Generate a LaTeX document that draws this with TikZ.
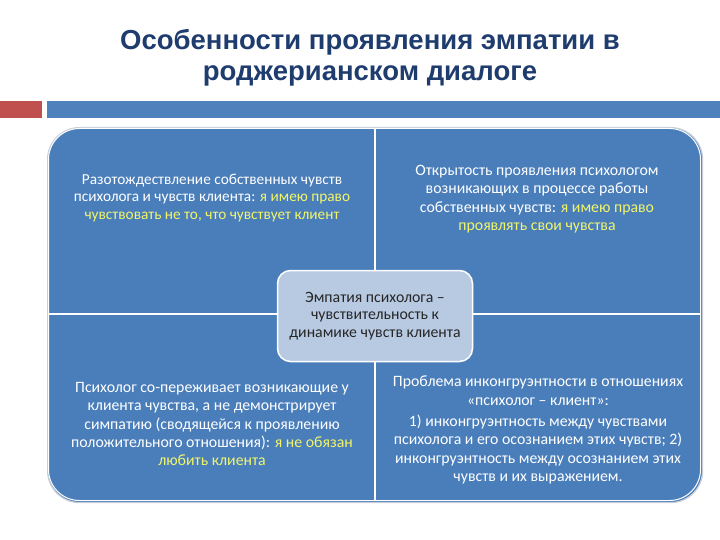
\documentclass[tikz,border=0pt]{standalone}
\usepackage{fontspec}
\setmainfont{Carlito}
\newfontfamily\titlefont{Liberation Sans}
\definecolor{titleblue}{HTML}{1F3C6E}
\definecolor{barred}{HTML}{C0504D}
\definecolor{barblue}{HTML}{4F81BD}
\definecolor{quadblue}{HTML}{4A7EBB}
\definecolor{centerfill}{HTML}{B8CAE2}
\definecolor{hl}{HTML}{F2F56A}
\definecolor{rimgray}{HTML}{C8CED8}
\newcommand{\hlt}[1]{{\color{hl}#1}}
\begin{document}
\begin{tikzpicture}[x=1pt,y=-1pt,
  quadtext/.style={text=white,align=center,font=\fontsize{15.8}{18.3}\selectfont,inner sep=0pt},
  titletext/.style={text=titleblue,align=center,font=\titlefont\bfseries\fontsize{27.5}{31}\selectfont,inner sep=0pt},
  bar/.style={inner sep=0pt,outer sep=0pt},
  divider/.style={draw=white,line width=1.6pt}]
\useasboundingbox (0,0) rectangle (720,540);
\fill[white] (0,0) rectangle (720,540);
% title
\node[titletext,anchor=center] (title) at (370,58) {Особенности проявления эмпатии в\\роджерианском диалоге};
% bars
\node[bar,fill=barred,minimum width=42pt,minimum height=17pt,anchor=north west] (redbar) at (0,101) {};
\node[bar,fill=barblue,minimum width=673pt,minimum height=17pt,anchor=north west] (bluebar) at (47,101) {};
% quadrant background
\node[draw=rimgray,line width=1.2pt,fill=quadblue,rounded corners=32pt,minimum width=655pt,minimum height=375pt,anchor=north west,inner sep=0pt] (frame) at (47,127) {};
\draw[white,line width=1pt,rounded corners=31pt] (48.5,128.5) rectangle (700.5,500.5);
% dividers
\coordinate (vtop) at (375,128);
\coordinate (vbot) at (375,501);
\coordinate (hl) at (48,314);
\coordinate (hr) at (701,314);
\draw[divider] (vtop) -- (vbot);
\draw[divider] (hl) -- (hr);
% quadrant texts
\node[quadtext,font=\fontsize{15.3}{17.2}\selectfont] (tl) at (212,198) {Разотождествление собственных чувств\\психолога и чувств клиента: \hlt{я имею право}\\\hlt{чувствовать не то, что чувствует клиент}};
\node[quadtext] (tr) at (537,199) {Открытость проявления психологом\\возникающих в процессе работы\\собственных чувств: \hlt{я имею право}\\\hlt{проявлять свои чувства}};
\node[quadtext] (bl) at (212,424) {Психолог со-переживает возникающие у\\клиента чувства, а не демонстрирует\\симпатию (сводящейся к проявлению\\положительного отношения): \hlt{я не обязан}\\\hlt{любить клиента}};
\node[quadtext] (br) at (538,430) {Проблема инконгруэнтности в отношениях\\«психолог – клиент»:\\[3pt]1) инконгруэнтность между чувствами\\психолога и его осознанием этих чувств; 2)\\инконгруэнтность между осознанием этих\\чувств и их выражением.};
% center
\node[draw=white,line width=1.5pt,fill=centerfill,rounded corners=13pt,minimum width=195pt,minimum height=91pt,text=black!85,align=center,font=\fontsize{15.8}{17.8}\selectfont] (center) at (375,316) {Эмпатия психолога –\\чувствительность к\\динамике чувств клиента};
\end{tikzpicture}
\end{document}
